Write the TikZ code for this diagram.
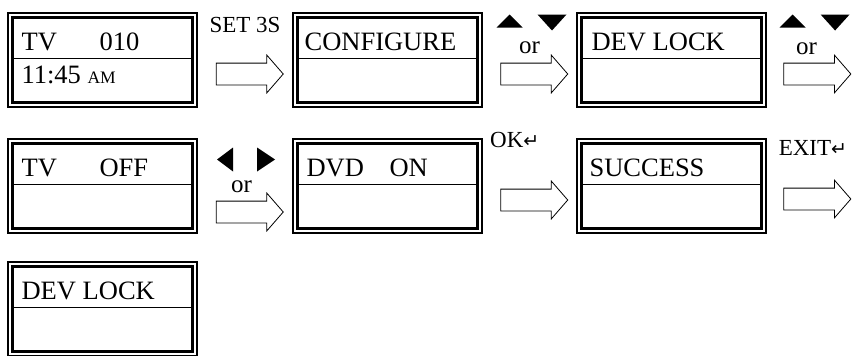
\documentclass[tikz,border=0pt]{standalone}
\usepackage{fontspec}
\setmainfont{Liberation Serif}
\newfontfamily\symfont{DejaVu Sans}
\usetikzlibrary{calc,positioning,shapes.arrows}
\tikzset{
	lcdscreen/.style={draw, line width=1.2pt, minimum width=189pt, minimum height=94pt, inner sep=0pt},
	lcdinner/.style={line width=2.4pt},
	lcdline/.style={line width=0.8pt},
	lcdtext/.style={anchor=base west, inner sep=0pt, font=\fontsize{26.5}{30}\selectfont},
	amtext/.style={anchor=base west, inner sep=0pt, font=\fontsize{17.5}{20}\selectfont},
	steparrow/.style={draw, line width=0.8pt, single arrow, single arrow head extend=8pt, single arrow tip angle=98, minimum height=67pt, inner xsep=0pt, inner ysep=10.5pt},
	keylabel/.style={anchor=base, inner sep=0pt, font=\fontsize{23}{26}\selectfont},
	ortext/.style={anchor=base, inner sep=0pt, font=\fontsize{25}{28}\selectfont}
}
\def\lcdframe(#1){%
	\draw[lcdinner] ($(#1.north west)+(5,5)$) rectangle ($(#1.south east)+(-5,-5)$);
	\draw[lcdline] ($(#1.north west)+(5,46)$) -- ($(#1.north east)+(-5,46)$);}
\def\updownkeys(#1){%
	\fill ($(#1.center)+(-33,-46.5)$) -- ($(#1.center)+(-7,-46.5)$) -- ($(#1.center)+(-20,-59.5)$) -- cycle;
	\fill ($(#1.center)+(8,-59.5)$) -- ($(#1.center)+(37,-59.5)$) -- ($(#1.center)+(22.5,-43.5)$) -- cycle;}
\def\leftrightkeys(#1){%
	\fill ($(#1.center)+(-12,-64.5)$) -- ($(#1.center)+(-12,-40.5)$) -- ($(#1.center)+(-28,-52.5)$) -- cycle;
	\fill ($(#1.center)+(12,-64.5)$) -- ($(#1.center)+(12,-40.5)$) -- ($(#1.center)+(30,-52.5)$) -- cycle;}
\def\enterkey{{\symfont\fontsize{19}{22}\selectfont\char"21B5}}

\begin{document}
\begin{tikzpicture}[x=1pt, y=-1pt]
	%%%%% START %%%%%
	\useasboundingbox (0,0) rectangle (855,356);
	
	% screens
	\node[lcdscreen] (s1) at (102.5,60) {};
	\node[lcdscreen] (s2) at (387.5,60) {};
	\node[lcdscreen] (s3) at (671.5,60) {};
	\node[lcdscreen] (s4) at (102.5,186) {};
	\node[lcdscreen] (s5) at (387.5,186) {};
	\node[lcdscreen] (s6) at (671.5,186) {};
	\node[lcdscreen] (s7) at (102.5,309) {};
	\lcdframe(s1) \lcdframe(s2) \lcdframe(s3)
	\lcdframe(s4) \lcdframe(s5) \lcdframe(s6)
	\lcdframe(s7)
	
	\node[lcdtext] (s1a) at ($(s1.north west)+(14,38)$) {TV};
	\node[lcdtext] (s1b) at ($(s1.north west)+(92,38)$) {010};
	\node[lcdtext] (s1c) at ($(s1.north west)+(14,71)$) {11:45};
	\node[amtext] (s1d) at ($(s1.north west)+(80,71)$) {AM};
	\node[lcdtext] (s2a) at ($(s2.north west)+(12,38)$) {CONFIGURE};
	\node[lcdtext] (s3a) at ($(s3.north west)+(15,38)$) {DEV LOCK};
	\node[lcdtext] (s4a) at ($(s4.north west)+(14,38)$) {TV};
	\node[lcdtext] (s4b) at ($(s4.north west)+(92,38)$) {OFF};
	\node[lcdtext] (s5a) at ($(s5.north west)+(14,38)$) {DVD};
	\node[lcdtext] (s5b) at ($(s5.north west)+(97,38)$) {ON};
	\node[lcdtext] (s6a) at ($(s6.north west)+(13,38)$) {SUCCESS};
	\node[lcdtext] (s7a) at ($(s7.north west)+(14,38)$) {DEV LOCK};
	
	% arrows
	\node[steparrow] (a1) at ($(s1.east)!.5!(s2.west)+(0,14)$) {};
	\node[steparrow] (a2) at ($(s2.east)!.5!(s3.west)+(0,14)$) {};
	\node[steparrow] (a3) at ($(s3.east)+(46,14)$) {};
	\node[steparrow] (a4) at ($(s4.east)!.5!(s5.west)+(0,26)$) {};
	\node[steparrow] (a5) at ($(s5.east)!.5!(s6.west)+(0,14)$) {};
	\node[steparrow] (a6) at ($(s6.east)+(46,13)$) {};
	
	% keys
	\node[keylabel] (k1) at ($(a1.center)+(0,-41.5)$) {SET 3S};
	\updownkeys(a2)
	\node[ortext] (k2) at ($(a2.center)+(0,-20.5)$) {or};
	\updownkeys(a3)
	\node[ortext] (k3) at ($(a3.center)+(-6,-19.5)$) {or};
	\leftrightkeys(a4)
	\node[ortext] (k4) at ($(a4.center)+(-3.5,-20)$) {or};
	\node[keylabel, anchor=base west] (k5) at ($(a5.center)+(-39.5,-53)$) {OK\enterkey};
	\node[keylabel, anchor=base west] (k6) at ($(a6.center)+(-34,-44)$) {EXIT\enterkey};
	
	%%%%% END %%%%%
\end{tikzpicture}
\end{document}
